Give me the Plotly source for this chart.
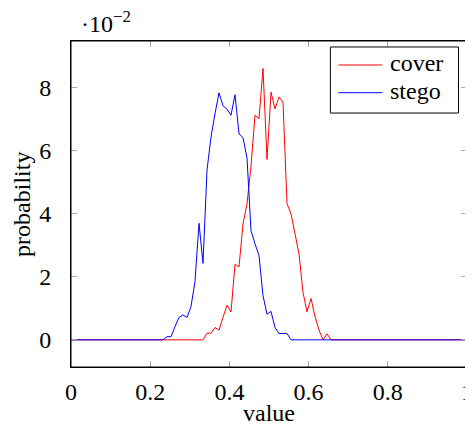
import plotly.graph_objects as go

# x grid: 100 bins on [0, 1]
x_vals = [i / 99 for i in range(100)]

# cover probabilities (non-zero region)
cover = [0.0] * 33 + [
    0.0000, 0.0021, 0.0021, 0.0039, 0.0031, 0.0071, 0.0110, 0.0088, 0.0239, 0.0231,
    0.0367, 0.0431, 0.0550, 0.0711, 0.0700, 0.0859, 0.0571, 0.0784, 0.0731, 0.0769,
    0.0752, 0.0431, 0.0399, 0.0336, 0.0272, 0.0150, 0.0089, 0.0131, 0.0074, 0.0031,
    0.0000, 0.0019, 0.0000,
] + [0.0] * 34

stego = [0.0] * 23 + [
    0.0000, 0.0010, 0.0010, 0.0042, 0.0071, 0.0079, 0.0071, 0.0105, 0.0185, 0.0369,
    0.0242, 0.0537, 0.0642, 0.0716, 0.0782, 0.0741, 0.0730, 0.0711, 0.0776, 0.0652,
    0.0640, 0.0576, 0.0346, 0.0304, 0.0267, 0.0140, 0.0081, 0.0090, 0.0039, 0.0020,
    0.0020, 0.0020, 0.0000,
] + [0.0] * 44

series_names = ["cover", "stego"]
series_colors = ["#ff0000", "#0000ff"]

x_ticks = [0, 0.2, 0.4, 0.6, 0.8, 1]
x_tick_text = ["0", "0.2", "0.4", "0.6", "0.8", "1"]
y_ticks = [0, 0.02, 0.04, 0.06, 0.08]
y_tick_text = ["0", "2", "4", "6", "8"]

FONT = "Liberation Serif, DejaVu Serif, serif"
FS = 24

fig = go.Figure()
for name, color, ys in zip(series_names, series_colors, [cover, stego]):
    fig.add_trace(go.Scatter(x=x_vals, y=ys, mode="lines", name=name,
                             line=dict(color=color, width=1), showlegend=False))

axis_common = dict(
    showgrid=False, zeroline=False, automargin=False,
    showline=True, linecolor="black", linewidth=1, mirror="ticks",
    ticks="inside", ticklen=6, tickwidth=1, tickcolor="#a8a8a8",
    tickfont=dict(family=FONT, size=FS, color="black"),
    ticklabeloverflow="allow",
)

# the page body has an 8px margin, so the figure is a bit smaller and offset
fig.update_layout(
    width=465, height=422,
    margin=dict(l=63, r=6, t=33, b=63),
    paper_bgcolor="white", plot_bgcolor="white",
    font=dict(family=FONT, size=FS, color="black"),
    xaxis=dict(range=[0, 1], tickvals=x_ticks, ticktext=x_tick_text,
               ticklabelstandoff=3, **axis_common),
    yaxis=dict(range=[-0.0086, 0.0946], tickvals=y_ticks, ticktext=y_tick_text,
               ticklabelstandoff=14, **axis_common),
    showlegend=False,
)

# axis titles
fig.add_annotation(xref="paper", yref="paper", x=0.5, y=-0.14,
                   xanchor="center", yanchor="middle", showarrow=False,
                   text="value", font=dict(family=FONT, size=FS))
fig.add_annotation(xref="paper", yref="paper", x=-0.124, y=0.5,
                   xanchor="center", yanchor="middle", showarrow=False,
                   textangle=-90, text="probability", font=dict(family=FONT, size=FS))

# frame
fig.add_shape(type="rect", xref="paper", yref="paper", x0=0, y0=0, x1=1, y1=1,
              line=dict(color="black", width=1), layer="above")

# legend box drawn by hand (pgfplots style)
fig.add_shape(type="rect", xref="paper", yref="paper",
              x0=0.655, x1=0.9785, y0=0.779, y1=0.9816,
              line=dict(color="black", width=1), fillcolor="white", layer="above")
for row_y, name, color in zip([0.9264, 0.8414], series_names, series_colors):
    fig.add_shape(type="line", xref="paper", yref="paper",
                  x0=0.6751, x1=0.7863, y0=row_y, y1=row_y,
                  line=dict(color=color, width=1), layer="above")
    fig.add_annotation(xref="paper", yref="paper", x=0.8, y=row_y + 0.006,
                       xanchor="left", yanchor="middle", showarrow=False,
                       text=name, font=dict(family=FONT, size=FS, color="black"))

fig.add_annotation(xref="paper", yref="paper", x=0.02, y=1.057,
                   xanchor="left", yanchor="middle", showarrow=False,
                   text="·10<sup>−2</sup>", font=dict(family=FONT, size=FS))

fig.write_html("out.html")
